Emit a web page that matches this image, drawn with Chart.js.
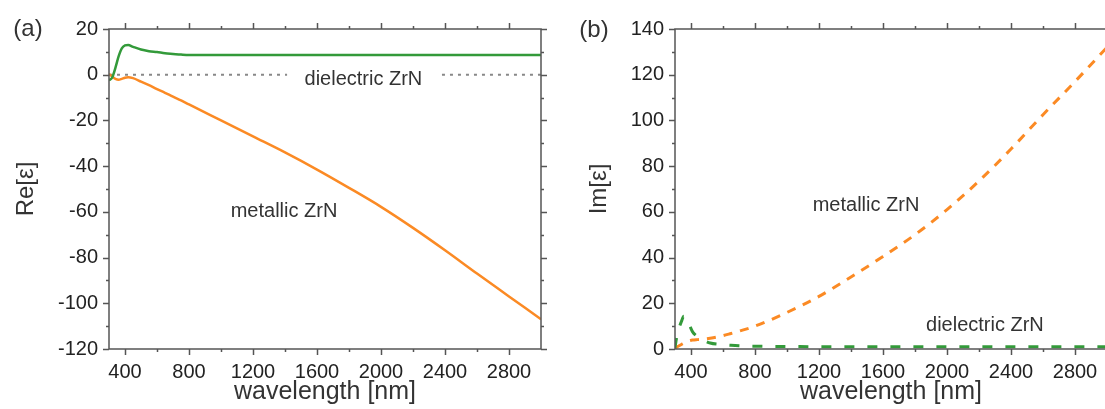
<!DOCTYPE html>
<html>
<head>
<meta charset="utf-8">
<script src="https://cdn.jsdelivr.net/npm/chart.js@4.4.1/dist/chart.umd.min.js"></script>
<style>
    html, body { margin: 0; padding: 0; background: #fff; overflow: hidden; }
    #wrap { position: relative; width: 1105px; height: 409px; overflow: hidden; }
    #reChart { position: absolute; left: 0; top: 0; }
    #imChart { position: absolute; left: 560px; top: 0; }
</style>
</head>
<body>
<div id="wrap">
    <canvas id="reChart" width="560" height="409"></canvas>
    <canvas id="imChart" width="550" height="409"></canvas>
</div>
<script>
// Real part, panel (a)
const reWavelength = [300, 320, 340, 360, 380, 400, 420, 450, 500, 550, 600, 650, 700, 750, 800, 1000, 1200, 1400, 1600, 1800, 2000, 2200, 2400, 2600, 2800, 3000];
const reDielectric = [-2.5, -1.2, 3, 8, 11.5, 12.8, 13, 12.2, 11, 10.3, 9.9, 9.4, 9.1, 8.8, 8.6, 8.6, 8.6, 8.6, 8.6, 8.6, 8.6, 8.6, 8.6, 8.6, 8.6, 8.6];
const reMetallic = [0.3, -0.8, -1.8, -2.2, -1.8, -1.3, -1.1, -1.5, -3, -4.6, -6.3, -7.9, -9.6, -11.2, -13, -20, -27, -34, -41.5, -49.5, -57.8, -67, -76.8, -87, -97, -107];

// zero reference line, broken where the label sits
const zeroLineX = [300, 1413, 1900, 2381, 3000];
const zeroLineY = [0, 0, null, 0, 0];

// Imaginary part, panel (b)
const imWavelength = [300, 310, 320, 340, 355, 370, 390, 410, 440, 480, 520, 580, 650, 700, 800, 1000, 1200, 1400, 1600, 1800, 2000, 2200, 2400, 2600, 2800, 3000];
const imDielectric = [0.5, 5, 8, 12, 14.3, 13.8, 10.5, 7.5, 5.5, 3.8, 2.6, 2, 1.6, 1.4, 1.2, 1.1, 1, 1, 1, 1, 1, 1, 1, 1, 1, 1];
const imMetallic = [0.3, 0.8, 1.2, 2, 2.6, 3.1, 3.6, 3.9, 4.1, 4.3, 4.7, 5.5, 6.8, 7.8, 10, 16, 23, 31.5, 40.5, 50, 61, 73.5, 87.5, 102.5, 117, 132];

// Tick values
const xMajorTicks = [400, 800, 1200, 1600, 2000, 2400, 2800];
const xMinorTicks = [600, 1000, 1400, 1800, 2200, 2600];
const reYTicks = [-120, -100, -80, -60, -40, -20, 0, 20];
const reYMinor = [-110, -90, -70, -50, -30, -10, 10];
const imYTicks = [0, 20, 40, 60, 80, 100, 120, 140];
const imYMinor = [10, 30, 50, 70, 90, 110, 130];

const FONT = "'Liberation Sans', Arial, Helvetica, sans-serif";
const GREEN = '#339a3a';
const ORANGE = '#fb8a24';

function toPoints(xs, ys) {
    return xs.map((x, i) => ({ x: x, y: ys[i] }));
}

// Boxed frame with outward major/minor ticks on all four sides
const frameTicks = {
    id: 'frameTicks',
    afterDraw(chart, args, opts) {
        const { ctx, chartArea: a } = chart;
        const xs = chart.scales.x;
        const ys = chart.scales.y;
        ctx.save();
        ctx.strokeStyle = '#555';
        ctx.lineWidth = 1.5;
        ctx.strokeRect(a.left, a.top, a.right - a.left, a.bottom - a.top);
        ctx.beginPath();
        const xMarks = (vals, len) => vals.forEach(v => {
            const px = Math.round(xs.getPixelForValue(v)) + 0.5;
            ctx.moveTo(px, a.bottom); ctx.lineTo(px, a.bottom + len);
            ctx.moveTo(px, a.top); ctx.lineTo(px, a.top - len);
        });
        const yMarks = (vals, len) => vals.forEach(v => {
            const py = Math.round(ys.getPixelForValue(v)) + 0.5;
            ctx.moveTo(a.left, py); ctx.lineTo(a.left - len, py);
            ctx.moveTo(a.right, py); ctx.lineTo(a.right + len, py);
        });
        xMarks(opts.xMajor, 6);
        xMarks(opts.xMinor, 3);
        yMarks(opts.yMajor, 6);
        yMarks(opts.yMinor, 3);
        ctx.stroke();
        ctx.restore();
    }
};

// In-plot curve names and the panel tag
const plotText = {
    id: 'plotText',
    afterDatasetsDraw(chart, args, opts) {
        const { ctx } = chart;
        ctx.save();
        ctx.fillStyle = '#333';
        ctx.textAlign = 'center';
        ctx.textBaseline = 'middle';
        ctx.font = '20px ' + FONT;
        opts.labels.forEach(l => {
            ctx.fillText(l.text, chart.scales.x.getPixelForValue(l.x), chart.scales.y.getPixelForValue(l.y));
        });
        ctx.font = '24px ' + FONT;
        ctx.fillText(opts.tag.text, opts.tag.x, opts.tag.y);
        ctx.restore();
    }
};

function makeChart(id, cfg) {
    const ctx = document.getElementById(id).getContext('2d');
    return new Chart(ctx, {
        type: 'line',
        data: { datasets: cfg.datasets },
        options: {
            responsive: false,
            animation: false,
            devicePixelRatio: 1,
            layout: { padding: { top: 29, right: cfg.padRight, left: 0, bottom: 0 } },
            elements: { point: { radius: 0 } },
            plugins: {
                legend: { display: false },
                tooltip: { enabled: false },
                frameTicks: { xMajor: xMajorTicks, xMinor: xMinorTicks, yMajor: cfg.yTicks, yMinor: cfg.yMinor },
                plotText: { labels: cfg.labels, tag: cfg.tag }
            },
            scales: {
                x: {
                    type: 'linear',
                    min: 300,
                    max: 3000,
                    grid: { display: false, drawTicks: false },
                    border: { display: false },
                    afterBuildTicks: s => { s.ticks = xMajorTicks.map(v => ({ value: v })); },
                    afterFit: s => { s.height = 60; },
                    ticks: {
                        color: '#222', padding: 11, maxRotation: 0, autoSkip: false,
                        font: { family: FONT, size: 20 },
                        callback: v => String(v)
                    },
                    title: { display: true, text: 'wavelength [nm]', color: '#333', padding: { top: 0, bottom: 2 }, font: { family: FONT, size: 25 } }
                },
                y: {
                    min: cfg.yTicks[0],
                    max: cfg.yTicks[cfg.yTicks.length - 1],
                    grid: { display: false, drawTicks: false },
                    border: { display: false },
                    afterBuildTicks: s => { s.ticks = cfg.yTicks.map(v => ({ value: v })); },
                    afterFit: s => { s.width = cfg.yWidth; },
                    ticks: { color: '#222', padding: 11, font: { family: FONT, size: 20 }, callback: v => String(v) },
                    title: { display: true, text: cfg.yTitle, color: '#333', padding: { top: cfg.yTitlePad, bottom: 0 }, font: { family: FONT, size: 24 } }
                }
            }
        },
        plugins: [frameTicks, plotText]
    });
}

makeChart('reChart', {
    yTicks: reYTicks,
    yMinor: reYMinor,
    yWidth: 109,
    padRight: 19,
    yTitle: 'Re[\u03b5]',
    yTitlePad: 12,
    tag: { text: '(a)', x: 28, y: 29 },
    labels: [
        { text: 'dielectric ZrN', x: 1890, y: -2.3 },
        { text: 'metallic ZrN', x: 1394, y: -60 }
    ],
    datasets: [
        { data: toPoints(reWavelength, reDielectric), borderColor: GREEN, borderWidth: 2.5, cubicInterpolationMode: 'monotone', order: 1 },
        { data: toPoints(reWavelength, reMetallic), borderColor: ORANGE, borderWidth: 2.5, cubicInterpolationMode: 'monotone', order: 2 },
        { data: toPoints(zeroLineX, zeroLineY), borderColor: '#888', borderWidth: 2, borderDash: [3, 5], spanGaps: false, order: 3 }
    ]
});

makeChart('imChart', {
    yTicks: imYTicks,
    yMinor: imYMinor,
    yWidth: 115,
    padRight: 3,
    yTitle: 'Im[\u03b5]',
    yTitlePad: 25,
    tag: { text: '(b)', x: 34, y: 30 },
    labels: [
        { text: 'metallic ZrN', x: 1494, y: 63 },
        { text: 'dielectric ZrN', x: 2237, y: 10.5 }
    ],
    datasets: [
        { data: toPoints(imWavelength, imDielectric), borderColor: GREEN, borderWidth: 3, borderDash: [10, 13], cubicInterpolationMode: 'monotone', order: 1 },
        { data: toPoints(imWavelength, imMetallic), borderColor: ORANGE, borderWidth: 3, borderDash: [9, 8], cubicInterpolationMode: 'monotone', order: 2 }
    ]
});
</script>
</body>
</html>
